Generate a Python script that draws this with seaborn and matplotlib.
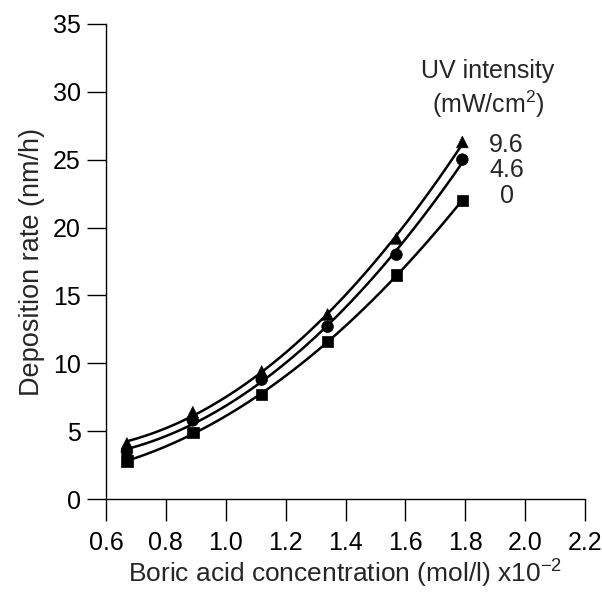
import numpy as np
import pandas as pd
import matplotlib
matplotlib.use("Agg")
import matplotlib.pyplot as plt
import seaborn as sns

# ---- data ----
conc = [0.67, 0.89, 1.12, 1.34, 1.57, 1.79]
rate_0 = [2.8, 4.9, 7.7, 11.6, 16.5, 22.0]
rate_4_6 = [3.5, 5.8, 8.8, 12.7, 18.0, 25.0]
rate_9_6 = [4.1, 6.4, 9.4, 13.6, 19.2, 26.3]
intensity_labels = ["9.6", "4.6", "0"]
x_ticks = [0.6, 0.8, 1.0, 1.2, 1.4, 1.6, 1.8, 2.0, 2.2]
y_ticks = [0, 5, 10, 15, 20, 25, 30, 35]

series = {"9.6": rate_9_6, "4.6": rate_4_6, "0": rate_0}
markers = {"9.6": "^", "4.6": "o", "0": "s"}

df = pd.concat(
    [pd.DataFrame({"conc": conc, "rate": v, "UV": k}) for k, v in series.items()],
    ignore_index=True,
)

sns.set_style("ticks")
plt.rcParams["font.family"] = ["Liberation Sans", "DejaVu Sans"]
plt.rcParams["mathtext.fontset"] = "custom"
plt.rcParams["mathtext.rm"] = "Liberation Sans"
plt.rcParams["mathtext.it"] = "Liberation Sans"
plt.rcParams["mathtext.bf"] = "Liberation Sans"

fig = plt.figure(figsize=(6.02, 5.95), dpi=100)
ax = fig.add_axes([0.176, 0.161, 0.796, 0.799])

for k in intensity_labels:
    sub = df[df["UV"] == k]
    sns.regplot(data=sub, x="conc", y="rate", order=2, ci=None, scatter=False,
                truncate=True, color="black", line_kws={"linewidth": 1.8}, ax=ax)

sns.scatterplot(data=df, x="conc", y="rate", style="UV", markers=markers,
                color="black", s=70, edgecolor="black", linewidth=0.5,
                legend=False, ax=ax, zorder=5)

ax.set_xlim(0.6, 2.2)
ax.set_ylim(0, 35)
ax.set_xticks(x_ticks)
ax.set_xticklabels([f"{t:.1f}" for t in x_ticks])
ax.set_yticks(y_ticks)
ax.set_yticklabels([str(t) for t in y_ticks])

for side in ["top", "right"]:
    ax.spines[side].set_visible(False)
for side in ["left", "bottom"]:
    ax.spines[side].set_linewidth(1.0)
    ax.spines[side].set_color("black")

ax.tick_params(axis="x", direction="out", length=16, width=1.0,
               labelsize=18, colors="black", pad=7)
ax.tick_params(axis="y", direction="out", length=14, width=1.0,
               labelsize=18, colors="black", pad=4)

ax.set_xlabel(r"Boric acid concentration (mol/l) x10$^{-2}$", fontsize=19, labelpad=2)
ax.set_ylabel("Deposition rate (nm/h)", fontsize=19.5, labelpad=6)

ax.text(1.873, 31.5, "UV intensity", fontsize=18, ha="center", va="center")
ax.text(1.876, 29.1, r"(mW/cm$^{2}$)", fontsize=18, ha="center", va="center")

label_y = {"9.6": 26.1, "4.6": 24.2, "0": 22.3}
label_x = {"9.6": 1.88, "4.6": 1.88, "0": 1.915}
for k in intensity_labels:
    ax.text(label_x[k], label_y[k], k, fontsize=18, ha="left", va="center")

fig.savefig("out.png", dpi=100)
